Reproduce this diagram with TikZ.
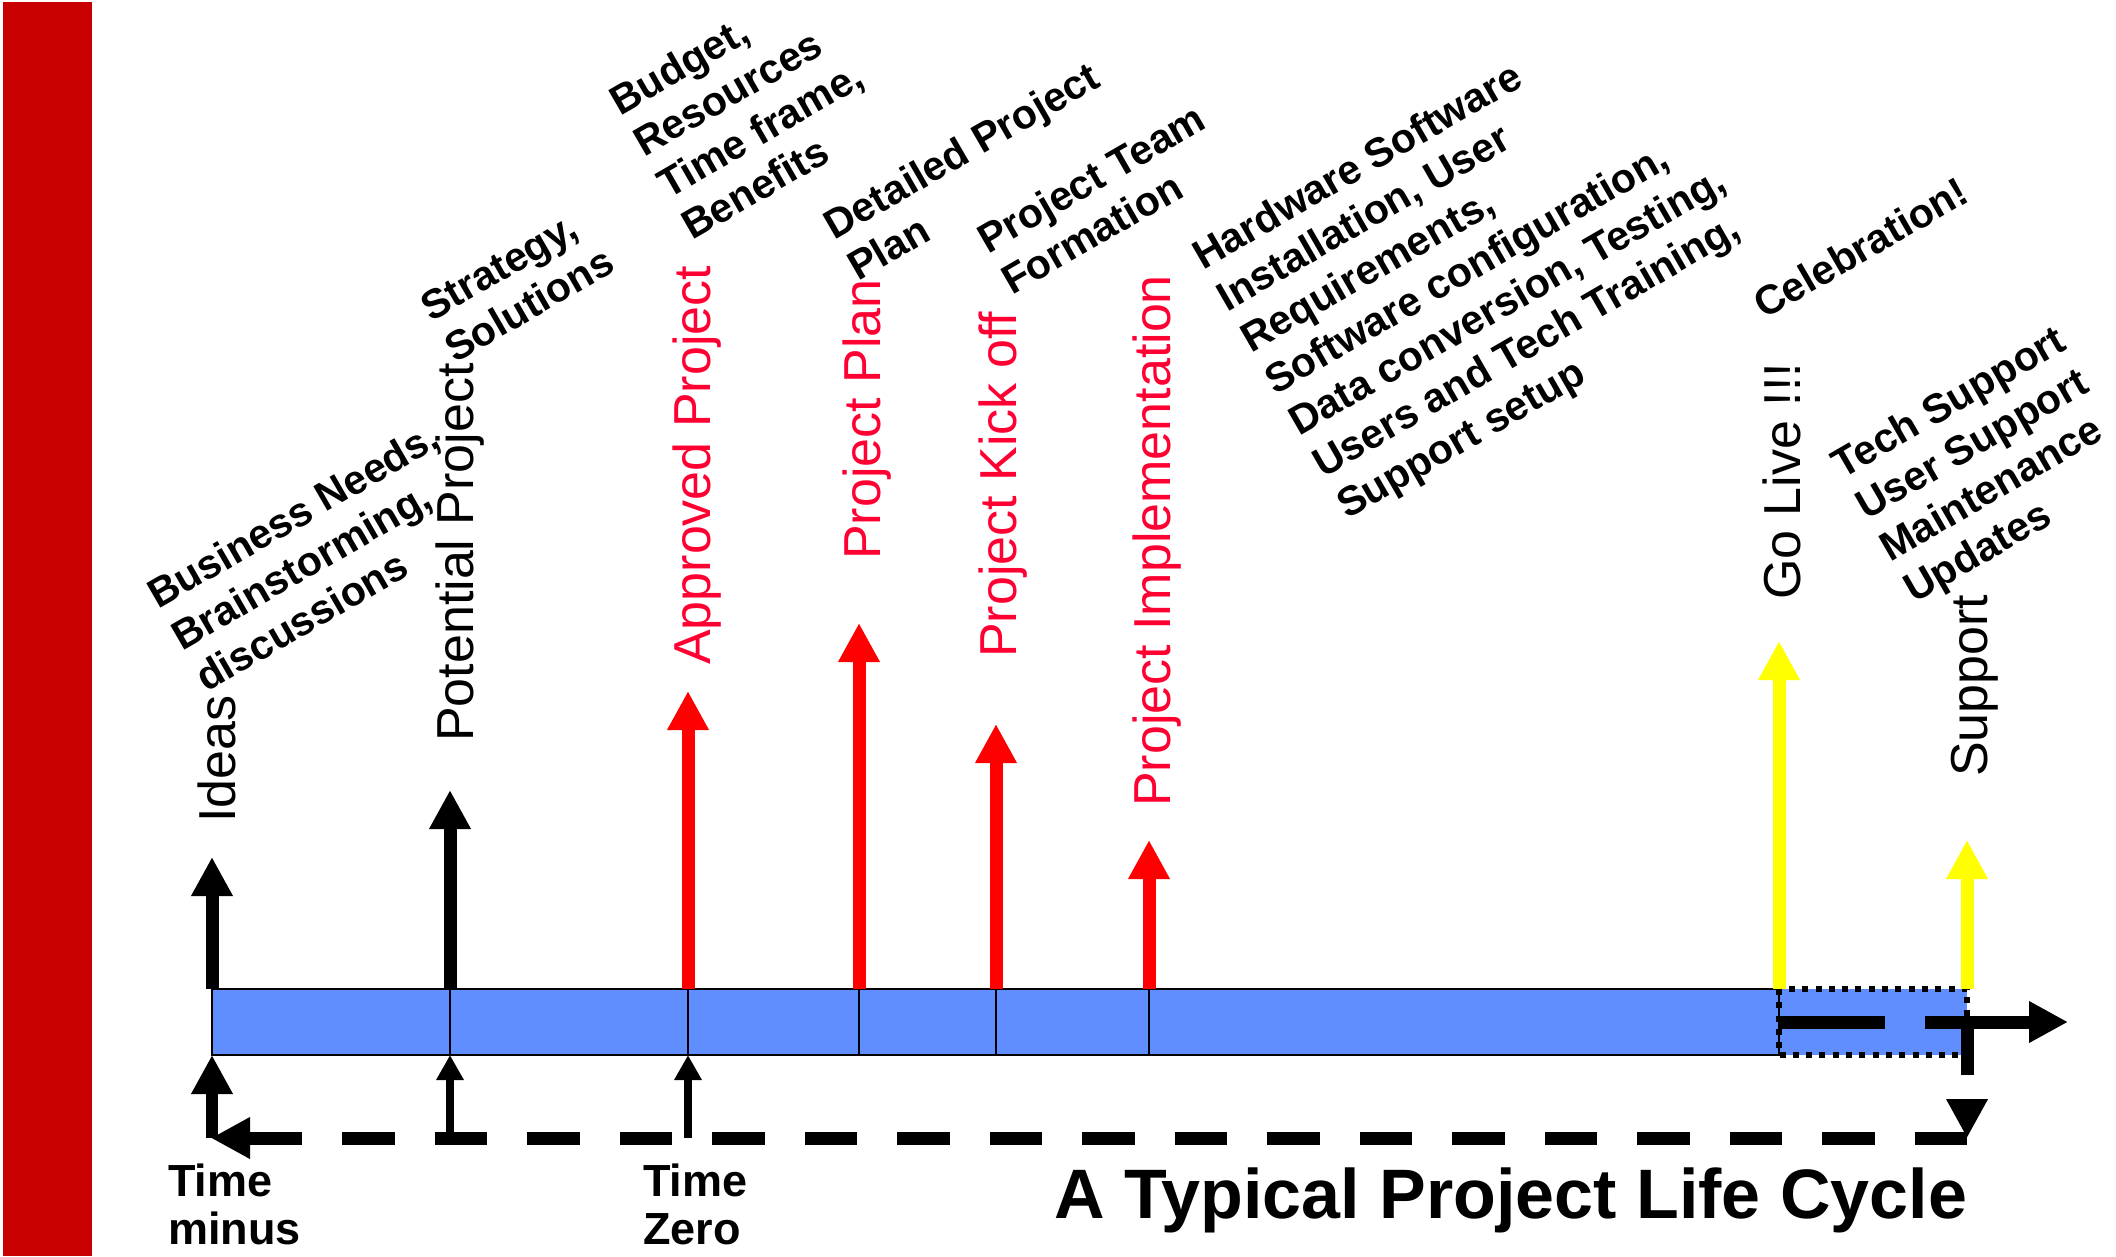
\documentclass[tikz,border=0pt]{standalone}
\usepackage{fontspec}
\setmainfont{Liberation Sans}
\usetikzlibrary{arrows.meta}
\definecolor{sidebar}{RGB}{200,0,0}
\definecolor{barblue}{RGB}{97,142,255}
\definecolor{phasered}{RGB}{255,0,0}
\definecolor{labelred}{RGB}{255,0,51}
\definecolor{golive}{RGB}{255,255,0}
\tikzset{
  bigtip/.tip={Triangle[width=39pt,length=39pt]},
  smalltip/.tip={Triangle[width=26pt,length=25pt]},
  uparrow/.style={line width=13pt,-{bigtip}},
  thinup/.style={line width=8pt,-{smalltip}},
  flowline/.style={line width=13pt},
  phaselabel/.style={rotate=90,anchor=base west,inner sep=0pt,font=\fontsize{52}{60}\selectfont},
  % multi-line notes are placed by the start of their last line
  diagnote/.style={rotate=30,anchor=base west,inner sep=0pt,align=left,font=\bfseries\fontsize{41}{48}\selectfont},
  timelabel/.style={anchor=base west,inner sep=0pt,align=left,font=\bfseries\fontsize{45}{48}\selectfont},
}
\begin{document}
\begin{tikzpicture}[x=1pt,y=-1pt]
\useasboundingbox (0,0) rectangle (2116,1256);
% side band
\fill[sidebar] (3,2) rectangle (92,1256);

% milestone positions on the time bar
\foreach \n/\x in {ideas/212,potential/450,approved/688,plan/859,kickoff/996,impl/1149,golive/1779,support/1967}{
  \coordinate (\n-top) at (\x,989);
  \coordinate (\n-bot) at (\x,1055);
}

% time bar
\fill[barblue] (ideas-top) rectangle (support-bot);
\draw[line width=2pt] (ideas-top) rectangle (golive-bot);
\foreach \n in {potential,approved,plan,kickoff,impl}
  \draw[line width=1.5pt] (\n-top) -- (\n-bot);
\draw[line width=6pt,dash pattern=on 6pt off 7.3pt] (golive-top) rectangle (support-bot);

% arrow tips above the bar
\coordinate (ideas-tip) at (212,857);
\coordinate (potential-tip) at (450,790);
\coordinate (approved-tip) at (688,691);
\coordinate (plan-tip) at (859,623);
\coordinate (kickoff-tip) at (996,724);
\coordinate (impl-tip) at (1149,840);
\coordinate (golive-tip) at (1779,641);
\coordinate (support-tip) at (1967,840);

\draw[uparrow] (ideas-top) -- (ideas-tip);
\draw[uparrow] (potential-top) -- (potential-tip);
\draw[uparrow,phasered] (approved-top) -- (approved-tip);
\draw[uparrow,phasered] (plan-top) -- (plan-tip);
\draw[uparrow,phasered] (kickoff-top) -- (kickoff-tip);
\draw[uparrow,phasered] (impl-top) -- (impl-tip);
\draw[uparrow,golive] (golive-top) -- (golive-tip);
\draw[uparrow,golive] (support-top) -- (support-tip);

% return flow below the bar
\coordinate (flow-start) at (1779,1022);
\coordinate (flow-end) at (2068,1022);
\coordinate (turn-top) at (1967,1022);
\coordinate (turn) at (1967,1138);
\coordinate (back-end) at (211,1138);
\coordinate (ideas-low) at (212,1138);
\coordinate (potential-low) at (450,1138);
\coordinate (approved-low) at (688,1138);

\draw[flowline,dash pattern=on 106pt off 40pt on 400pt,-{bigtip}] (flow-start) -- (flow-end);
\draw[flowline,dash pattern=on 53pt off 300pt,-{bigtip}] (turn-top) -- (turn);
\draw[flowline,dash pattern=on 52.5pt off 40pt,-{bigtip}] (turn) -- (back-end);
\draw[line width=12pt,-{bigtip}] (ideas-low) -- (ideas-bot);
\draw[thinup] (potential-low) -- (potential-bot);
\draw[thinup] (approved-low) -- (approved-bot);

% phase names
\node[phaselabel] (ideas-label) at (235,823) {Ideas};
\node[phaselabel] (potential-label) at (473,742) {Potential Project};
\node[phaselabel,text=labelred] (approved-label) at (710,665) {Approved Project};
\node[phaselabel,text=labelred] (plan-label) at (880,560) {Project Plan};
\node[phaselabel,text=labelred] (kickoff-label) at (1016,658) {Project Kick off};
\node[phaselabel,text=labelred] (impl-label) at (1170,807) {Project Implementation};
\node[phaselabel] (golive-label) at (1800,600) {Go Live !!!};
\node[phaselabel] (support-label) at (1987,777) {Support};

% activity notes
\node[diagnote] (needs) at (206,693) {Business Needs,\\Brainstorming,\\discussions};
\node[diagnote] (strategy) at (455,364) {Strategy,\\Solutions};
\node[diagnote] (budget) at (692,241) {Budget,\\Resources\\Time frame,\\Benefits};
\node[diagnote] (detail) at (858,282) {Detailed Project\\Plan};
\node[diagnote] (team) at (1012,296) {Project Team\\Formation};
\node[diagnote] (tasks) at (1347,520) {Hardware Software\\Installation, User\\Requirements,\\Software configuration,\\Data conversion, Testing,\\Users and Tech Training,\\Support setup};
\node[diagnote] (celebrate) at (1764,320) {Celebration!};
\node[diagnote] (care) at (1914,604) {Tech Support\\User Support\\Maintenance\\Updates};

% time markers and title
\node[timelabel] (tminus) at (168,1244) {Time\\minus};
\node[timelabel] (tzero) at (643,1244) {Time\\Zero};
\node[anchor=base west,inner sep=0pt,font=\bfseries\fontsize{70}{84}\selectfont] (title) at (1054,1218) {A Typical Project Life Cycle};
\end{tikzpicture}
\end{document}
